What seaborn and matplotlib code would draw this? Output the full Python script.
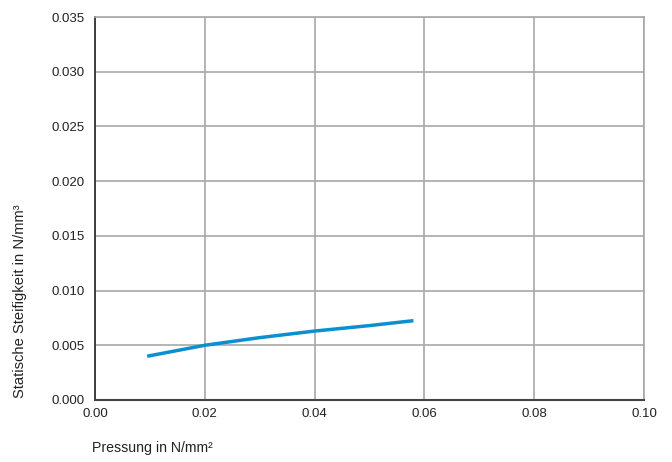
import matplotlib
matplotlib.use('Agg')
import matplotlib.pyplot as plt
import seaborn as sns
import pandas as pd

# values
pressure = [0.0095, 0.02, 0.03, 0.04, 0.05, 0.058]
stiffness = [0.0040, 0.0050, 0.0057, 0.0063, 0.0068, 0.00725]
x_ticks = [0.00, 0.02, 0.04, 0.06, 0.08, 0.10]
y_ticks = [0.000, 0.005, 0.010, 0.015, 0.020, 0.025, 0.030, 0.035]

df = pd.DataFrame({'Pressung': pressure, 'Steifigkeit': stiffness})

sns.set_style('white')
plt.rcParams['font.family'] = ['Liberation Sans', 'DejaVu Sans']

fig = plt.figure(figsize=(6.72, 4.62), dpi=100)
ax = fig.add_axes([95 / 672, 1 - 400 / 462, 549 / 672, 383 / 462])

sns.lineplot(data=df, x='Pressung', y='Steifigkeit', ax=ax,
             color='#0a8fd0', linewidth=2.5, solid_capstyle='butt')

ax.set_xlim(0, 0.10)
ax.set_ylim(0, 0.035)
ax.set_xticks(x_ticks)
ax.set_yticks(y_ticks)
ax.set_xticklabels([f'{v:.2f}' for v in x_ticks])
ax.set_yticklabels([f'{v:.3f}' for v in y_ticks])
ax.tick_params(axis='x', length=0, labelsize=9.5, pad=6, colors='#222222')
ax.tick_params(axis='y', length=0, labelsize=9.5, pad=7.5, colors='#222222')
ax.grid(True, color='#a8a8a8', linewidth=1.2)
ax.set_axisbelow(True)

for side in ['top', 'right']:
    ax.spines[side].set_color('#a8a8a8')
    ax.spines[side].set_linewidth(1.2)
ax.spines['left'].set_color('#333333')
ax.spines['bottom'].set_color('#444444')
ax.spines['left'].set_linewidth(1.3)
ax.spines['bottom'].set_linewidth(1.5)

ax.set_xlabel('Pressung in N/mm²', fontsize=10.2, color='#222222')
ax.xaxis.set_label_coords(-0.006, -0.108)
ax.xaxis.label.set_horizontalalignment('left')
ax.set_ylabel('Statische Steifigkeit in N/mm³', fontsize=10.6, color='#222222')
ax.yaxis.set_label_coords(-0.137, 0.005)
ax.yaxis.label.set_verticalalignment('center')
ax.yaxis.label.set_horizontalalignment('left')

plt.savefig('out.png', dpi=100)
plt.close()
